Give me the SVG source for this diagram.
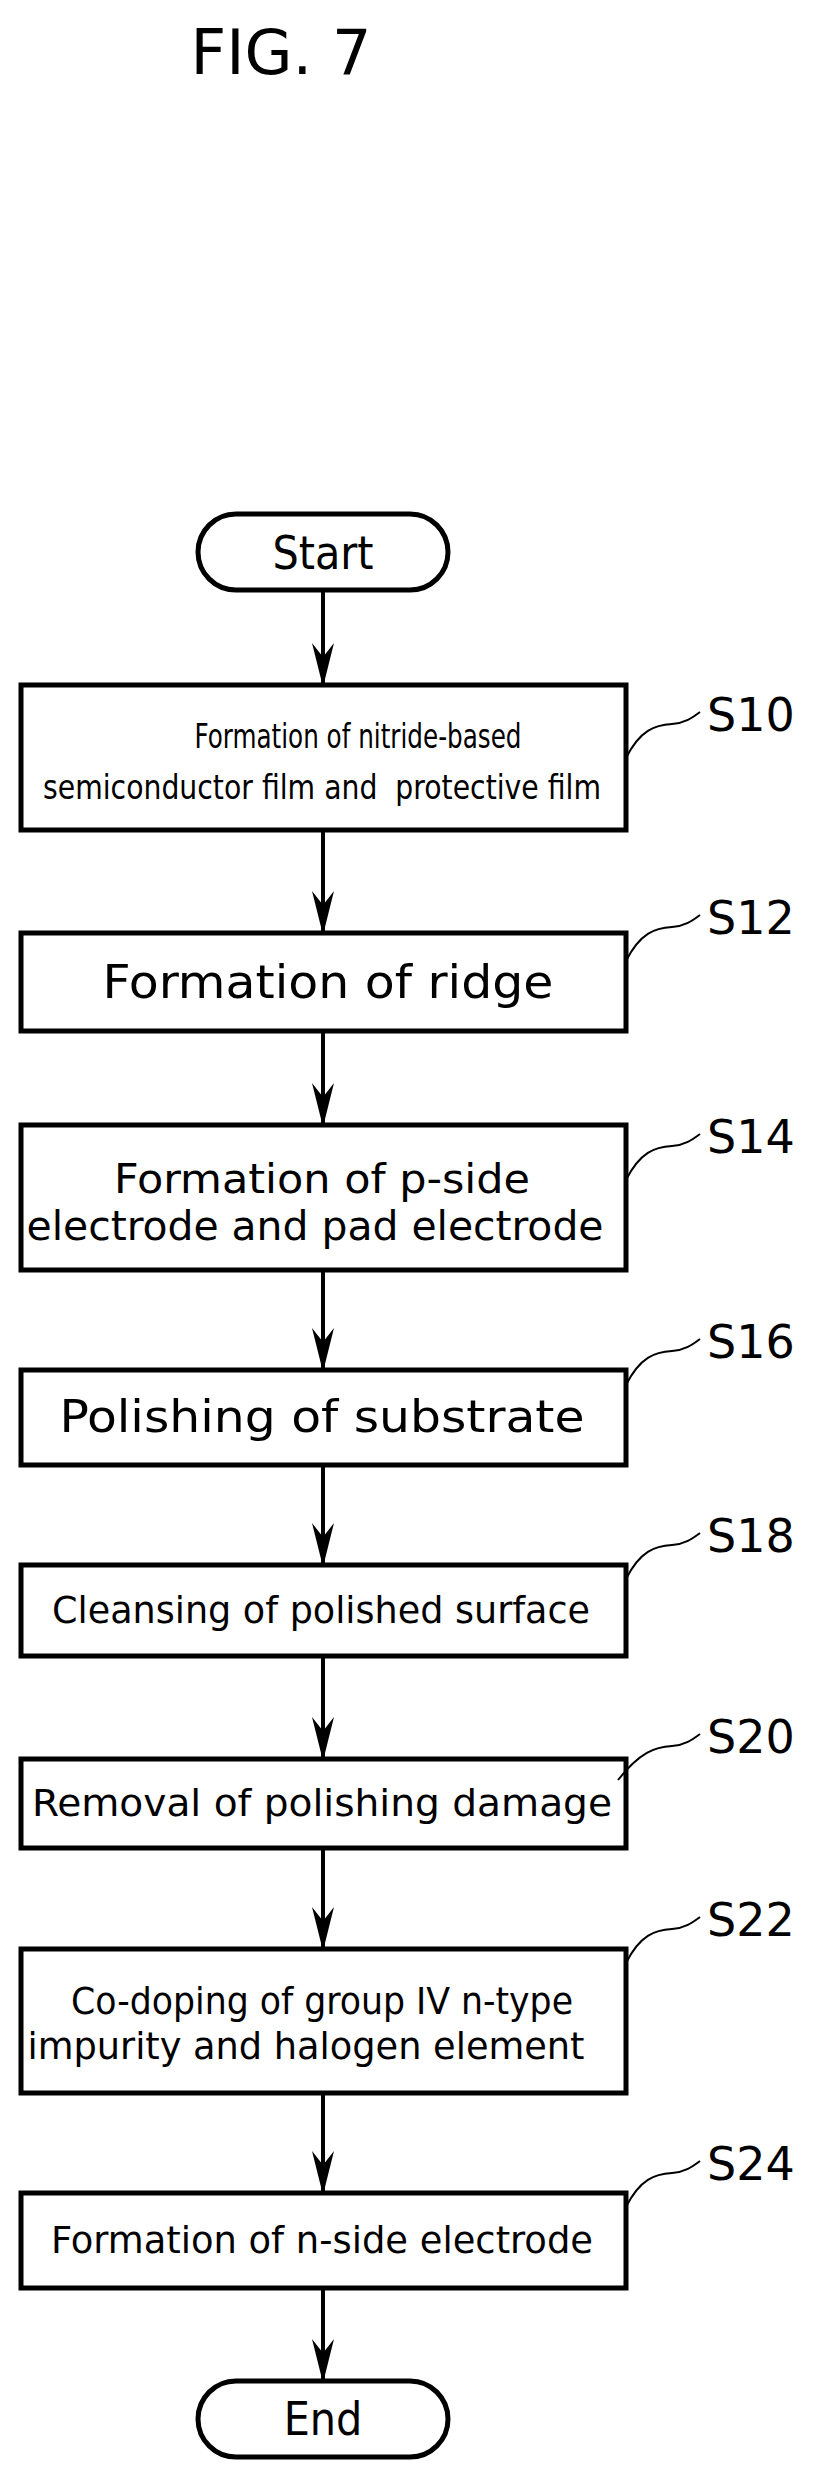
<svg xmlns="http://www.w3.org/2000/svg" width="818" height="2476" viewBox="0 0 818 2476">
<style>
.b{fill:#fff;stroke:#000;stroke-width:5}
.t{font-family:"DejaVu Sans Condensed","DejaVu Sans",sans-serif;text-anchor:middle;fill:#000}
.l{font-family:"DejaVu Sans",sans-serif;font-size:46px;fill:#000}
.c{fill:none;stroke:#000;stroke-width:4}
.ld{fill:none;stroke:#000;stroke-width:2}
</style>
<defs><marker id="a" markerWidth="44" markerHeight="24" refX="42" refY="11" orient="auto" markerUnits="userSpaceOnUse" viewBox="0 0 44 22"><path d="M0,0 L14,11 L0,22 L44,11 Z" fill="#000"/></marker></defs>
<text x="281" y="74" style="font-family:'DejaVu Sans',sans-serif;font-size:62px;text-anchor:middle">FIG. 7</text>
<g id="connectors">
<line class="c" x1="323" y1="590" x2="323" y2="685" marker-end="url(#a)"/>
<line class="c" x1="323" y1="830" x2="323" y2="933" marker-end="url(#a)"/>
<line class="c" x1="323" y1="1031" x2="323" y2="1125" marker-end="url(#a)"/>
<line class="c" x1="323" y1="1270" x2="323" y2="1370" marker-end="url(#a)"/>
<line class="c" x1="323" y1="1465" x2="323" y2="1565" marker-end="url(#a)"/>
<line class="c" x1="323" y1="1656" x2="323" y2="1759" marker-end="url(#a)"/>
<line class="c" x1="323" y1="1848" x2="323" y2="1949" marker-end="url(#a)"/>
<line class="c" x1="323" y1="2093" x2="323" y2="2193" marker-end="url(#a)"/>
<line class="c" x1="323" y1="2288" x2="323" y2="2381" marker-end="url(#a)"/>
</g>
<g id="start"><rect class="b" x="198" y="514" width="250" height="76" rx="38"/><text class="t" x="323" y="569" font-size="46">Start</text></g>
<g id="s10"><rect class="b" x="21" y="685" width="605" height="145"/>
<text class="t" x="358" y="748" font-size="34" textLength="327" lengthAdjust="spacingAndGlyphs">Formation of nitride-based</text>
<text class="t" x="322" y="799" font-size="34" textLength="558" lengthAdjust="spacingAndGlyphs" xml:space="preserve">semiconductor film and  protective film</text>
<path class="ld" d="M626,758 C640,730 655,725 672,724 C685,723 692,718 700,712"/><text class="l" x="707" y="731">S10</text></g>
<g id="s12"><rect class="b" x="21" y="933" width="605" height="98"/>
<text class="t" x="328" y="998" font-size="46" textLength="451" lengthAdjust="spacingAndGlyphs">Formation of ridge</text>
<path class="ld" d="M626,961 C640,933 655,928 672,927 C685,926 692,921 700,915"/><text class="l" x="707" y="934">S12</text></g>
<g id="s14"><rect class="b" x="21" y="1125" width="605" height="145"/>
<text class="t" x="322" y="1193" font-size="40" textLength="416" lengthAdjust="spacingAndGlyphs">Formation of p-side</text>
<text class="t" x="315" y="1240" font-size="40" textLength="577" lengthAdjust="spacingAndGlyphs">electrode and pad electrode</text>
<path class="ld" d="M626,1180 C640,1152 655,1147 672,1146 C685,1145 692,1140 700,1134"/><text class="l" x="707" y="1153">S14</text></g>
<g id="s16"><rect class="b" x="21" y="1370" width="605" height="95"/>
<text class="t" x="322" y="1432" font-size="44" textLength="525" lengthAdjust="spacingAndGlyphs">Polishing of substrate</text>
<path class="ld" d="M626,1385 C640,1357 655,1352 672,1351 C685,1350 692,1345 700,1339"/><text class="l" x="707" y="1358">S16</text></g>
<g id="s18"><rect class="b" x="21" y="1565" width="605" height="91"/>
<text class="t" x="321" y="1623" font-size="38" textLength="538" lengthAdjust="spacingAndGlyphs">Cleansing of polished surface</text>
<path class="ld" d="M626,1579 C640,1551 655,1546 672,1545 C685,1544 692,1539 700,1533"/><text class="l" x="707" y="1552">S18</text></g>
<g id="s20"><rect class="b" x="21" y="1759" width="605" height="89"/>
<text class="t" x="322" y="1816" font-size="38" textLength="580" lengthAdjust="spacingAndGlyphs">Removal of polishing damage</text>
<path class="ld" d="M618,1780 C640,1752 655,1747 672,1746 C685,1745 692,1740 700,1734"/><text class="l" x="707" y="1753">S20</text></g>
<g id="s22"><rect class="b" x="21" y="1949" width="605" height="144"/>
<text class="t" x="322" y="2014" font-size="38" textLength="502" lengthAdjust="spacingAndGlyphs">Co-doping of group IV n-type</text>
<text class="t" x="306" y="2059" font-size="38" textLength="557" lengthAdjust="spacingAndGlyphs">impurity and halogen element</text>
<path class="ld" d="M626,1963 C640,1935 655,1930 672,1929 C685,1928 692,1923 700,1917"/><text class="l" x="707" y="1936">S22</text></g>
<g id="s24"><rect class="b" x="21" y="2193" width="605" height="95"/>
<text class="t" x="322" y="2253" font-size="38" textLength="542" lengthAdjust="spacingAndGlyphs">Formation of n-side electrode</text>
<path class="ld" d="M626,2207 C640,2179 655,2174 672,2173 C685,2172 692,2167 700,2161"/><text class="l" x="707" y="2180">S24</text></g>
<g id="end"><rect class="b" x="198" y="2381" width="250" height="76" rx="38"/><text class="t" x="323" y="2435" font-size="46">End</text></g>
</svg>
